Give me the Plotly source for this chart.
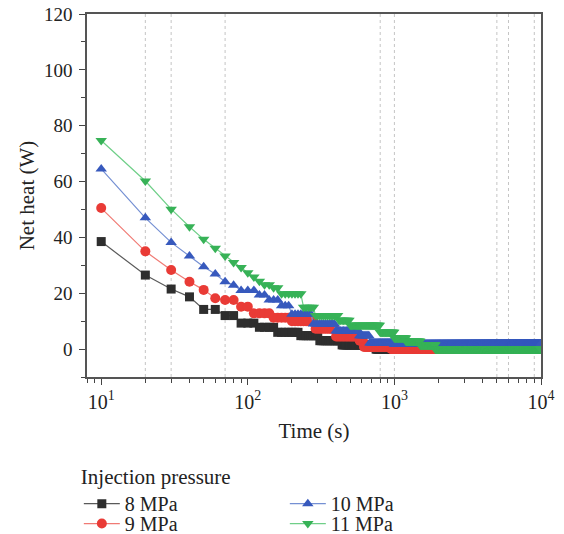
import numpy as np
import plotly.graph_objects as go

# Sampling times (s): recorded every 10 s
time_s = np.arange(10, 10001, 10)

# Step breakpoints: (start time, value held until next breakpoint)
p8_t = [10, 20, 30, 40, 50, 70, 90, 120, 160, 230, 310, 440, 750]
p8_v = [38.5, 26.5, 21.5, 18.7, 14.2, 12.0, 9.3, 7.8, 6.0, 4.8, 3.0, 1.5, 0.0]

p9_t = [10, 20, 30, 40, 50, 60, 70, 90, 110, 150, 200, 290, 400, 580, 620, 950]
p9_v = [50.5, 35.0, 28.3, 24.1, 21.2, 18.2, 17.6, 15.2, 12.8, 11.2, 10.0, 7.3, 4.5, 3.0, 0.8, 0.0]

p10_t = [10, 20, 30, 40, 50, 60, 70, 80, 90, 120, 140, 170, 200, 280, 400, 580, 680, 1000]
p10_v = [64.5, 47.0, 38.2, 33.3, 29.5, 26.9, 24.1, 22.9, 21.0, 19.4, 17.6, 15.5, 12.5, 9.0, 6.5, 4.8, 2.2, 1.7]

p11_t = [10, 20, 30, 40, 50, 60, 70, 80, 90, 100, 110, 120, 130, 145, 170, 240, 290, 420,
         500, 800, 1000, 1200, 1500, 1900]
p11_v = [74.7, 60.2, 50.1, 43.8, 39.3, 36.1, 33.3, 31.0, 29.2, 27.3, 25.8, 24.3, 23.0, 22.0,
         19.8, 15.0, 12.0, 10.3, 8.5, 6.0, 4.0, 2.8, 1.5, 0.0]

series_names = ["8 MPa", "9 MPa", "10 MPa", "11 MPa"]
legend_ids = ["legend", "legend2", "legend", "legend2"]

# reference dotted vertical lines (s)
vline_times = [20, 30, 70, 800, 1000, 5000, 6000, 9000]


def hold(bt, bv):
    idx = np.searchsorted(np.array(bt), time_s, side="right") - 1
    return np.array(bv)[idx]


styles = [
    dict(marker_color="#2e2e2e", line_color="#5a5a5a", symbol="square", size=9),
    dict(marker_color="#e93b36", line_color="#f07a74", symbol="circle", size=10),
    dict(marker_color="#3759bd", line_color="#7590d3", symbol="triangle-up", size=10),
    dict(marker_color="#37b257", line_color="#6fcf88", symbol="triangle-down", size=10),
]

fig = go.Figure()
for name, bt, bv, st, lg in zip(series_names, [p8_t, p9_t, p10_t, p11_t],
                                 [p8_v, p9_v, p10_v, p11_v], styles, legend_ids):
    fig.add_trace(go.Scatter(
        x=time_s, y=hold(bt, bv), name=name, mode="lines+markers",
        line=dict(color=st["line_color"], width=1.2),
        marker=dict(color=st["marker_color"], symbol=st["symbol"], size=st["size"],
                    line=dict(width=0)),
        legend=lg,
    ))

for vt in vline_times:
    fig.add_shape(type="line", x0=vt, x1=vt, y0=0, y1=1, xref="x", yref="paper",
                  line=dict(color="#c4c4c4", width=1, dash="dot"), layer="below")

minor_x = [k * 10 ** d for d in range(0, 4) for k in range(2, 10) if 8 <= k * 10 ** d <= 10000]

font_family = "Liberation Serif"
legend_common = dict(
    orientation="h", xanchor="left", yanchor="top",
    font=dict(size=20), entrywidth=155, entrywidthmode="pixels",
    itemwidth=36, bgcolor="rgba(0,0,0,0)", borderwidth=0,
)
fig.update_layout(
    width=564, height=534,
    margin=dict(l=87, r=23, t=14, b=157, autoexpand=False),
    paper_bgcolor="white", plot_bgcolor="white",
    font=dict(family=font_family, size=20, color="#222222"),
    showlegend=True,
    legend=dict(x=-0.018, y=-0.22,
                title=dict(text="Injection pressure", side="top", font=dict(size=21)),
                **legend_common),
    legend2=dict(x=-0.018, y=-0.35, **legend_common),
    xaxis=dict(
        type="log", range=[np.log10(8), 4], automargin=False,
        tickvals=[10, 100, 1000, 10000],
        ticktext=["10<sup>1</sup>", "10<sup>2</sup>", "10<sup>3</sup>", "10<sup>4</sup>"],
        ticks="outside", ticklen=6, tickwidth=1.3, tickcolor="#444444",
        minor=dict(tickvals=minor_x, ticks="outside", ticklen=4, tickwidth=1, tickcolor="#444444"),
        showline=True, linecolor="#555555", linewidth=1.5, mirror=True,
        showgrid=False, zeroline=False,
        title=dict(text="Time (s)", standoff=12, font=dict(size=21)),
        tickfont=dict(size=20), ticklabelstandoff=0,
    ),
    yaxis=dict(
        range=[-10, 120], tickvals=[0, 20, 40, 60, 80, 100, 120], automargin=False,
        ticks="outside", ticklen=6, tickwidth=1.3, tickcolor="#444444",
        minor=dict(tickvals=[-10, 10, 30, 50, 70, 90, 110], ticks="outside", ticklen=4,
                   tickwidth=1, tickcolor="#444444"),
        showline=True, linecolor="#555555", linewidth=1.5, mirror=True,
        showgrid=False, zeroline=False,
        title=dict(text="Net heat (W)", standoff=4, font=dict(size=21)),
        tickfont=dict(size=19), ticklabelstandoff=3,
    ),
)

fig.write_html("out.html")
